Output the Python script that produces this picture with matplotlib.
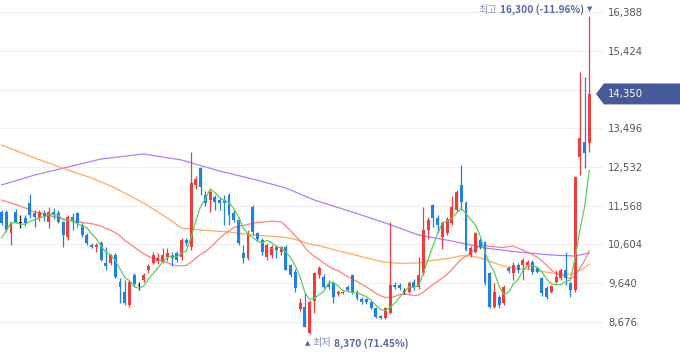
import matplotlib
matplotlib.use('Agg')
from matplotlib import pyplot as plt
from matplotlib.patches import Polygon
import numpy as np
import pandas as pd

# daily candles (open, high, low, close), oldest first
opens = [11420, 11420, 10880, 11420, 11146, 11255, 11636, 11387, 11255, 11387,
         11170, 11420, 11387, 11170, 10798, 11280, 11380, 11089, 10840, 10591,
         10550, 10633, 10135, 10135, 10342, 9680, 9430, 9098, 9845, 9560,
         9720, 9980, 10135, 10200, 10176, 10300, 10342, 10390, 10300, 10715,
         10550, 12084, 12500, 11835, 11710, 11790, 11710, 11710, 11835, 11380,
         11213, 10380, 10260, 11544, 10880, 10715, 10300, 10342, 10550, 10425,
         10550, 10093, 9930, 9000, 9056, 8400, 9210, 9845, 9800, 9620,
         9640, 9370, 9390, 9555, 9845, 9430, 9240, 9240, 9165, 9015,
         8825, 8770, 8890, 9600, 9590, 9430, 9430, 9680, 9555, 9886,
         10964, 11586, 11255, 10800, 10880, 11130, 11460, 12084, 11630, 10342,
         10420, 10715, 10670, 9886, 9056, 9310, 9140, 10010, 9886, 10093,
         10093, 10093, 10176, 10010, 9760, 9510, 9430, 9680, 9760, 9970,
         9640, 9470, 12787, 13160, 13120]
highs = [11460, 11462, 11160, 11490, 11338, 11340, 11860, 11450, 11460, 11460,
         11536, 11500, 11460, 11200, 11338, 11380, 11420, 11130, 10880, 10633,
         10633, 10680, 10550, 10360, 10380, 9770, 9720, 9720, 9900, 9680,
         9900, 10130, 10420, 10380, 10520, 10520, 10420, 10440, 10770, 10770,
         12910, 12300, 12530, 11930, 11960, 11835, 11790, 11835, 11880, 11460,
         11300, 10590, 10960, 11590, 10920, 10760, 10640, 10590, 10600, 10570,
         10580, 10130, 9990, 9270, 9390, 9220, 9930, 10080, 9880, 9720,
         9700, 9460, 9450, 9600, 9880, 9470, 9290, 9270, 9200, 9040,
         8850, 9060, 11170, 9680, 9650, 9520, 9700, 9740, 10300, 11540,
         11290, 11600, 11330, 11200, 11300, 11800, 11960, 12580, 11680, 10560,
         10920, 10760, 10700, 9930, 9650, 9350, 9600, 10060, 10170, 10140,
         10260, 10230, 10230, 10050, 9800, 9560, 9600, 9960, 10010, 10420,
         9680, 12300, 14900, 14780, 16300]
lows = [11100, 10920, 10591, 11140, 11006, 11060, 11263, 11050, 11200, 11200,
        11022, 11250, 11130, 10550, 10715, 10964, 11050, 10800, 10591, 10510,
        10425, 10200, 9970, 10100, 9780, 9150, 9100, 9060, 9550, 9460,
        9680, 9900, 10130, 10130, 10135, 10200, 10080, 10170, 10230, 10560,
        10467, 11990, 11830, 11560, 11420, 11460, 11460, 11090, 11089, 11170,
        10600, 10140, 10210, 10840, 10680, 10340, 10220, 10260, 10280, 10340,
        9960, 9800, 9430, 8950, 8540, 8370, 8890, 9770, 9530, 9500,
        9160, 9330, 9360, 9420, 9380, 9220, 9120, 9120, 8990, 8780,
        8740, 8740, 8870, 9500, 9480, 9360, 9400, 9480, 9500, 9850,
        10740, 11050, 10900, 10480, 10850, 11100, 11420, 11460, 10440, 10290,
        10380, 10500, 9600, 9020, 9020, 9020, 9110, 9900, 9720, 9890,
        9730, 9990, 9880, 9890, 9320, 9240, 9400, 9640, 9720, 9600,
        9300, 9430, 12330, 12500, 12900]
closes = [11130, 10964, 11130, 11170, 11146, 11130, 11338, 11296, 11420, 11296,
          11420, 11338, 11170, 10840, 11296, 11213, 11130, 10840, 10633, 10550,
          10591, 10218, 10068, 10342, 9803, 9555, 9140, 9680, 9620, 9560,
          9845, 10060, 10342, 10280, 10342, 10390, 10260, 10220, 10715, 10633,
          12125, 12225, 12040, 11630, 11917, 11670, 11630, 11640, 11338, 11213,
          10633, 10260, 10880, 10920, 10730, 10425, 10591, 10550, 10470, 10530,
          9970, 9845, 9513, 9140, 8560, 9180, 9890, 10018, 9555, 9555,
          9305, 9430, 9430, 9470, 9430, 9265, 9180, 9180, 9015, 8805,
          8770, 9015, 9596, 9555, 9530, 9430, 9640, 9515, 9845, 10964,
          11213, 11263, 11089, 11130, 11250, 11544, 11917, 11670, 10467, 10510,
          10880, 10550, 9640, 9056, 9430, 9100, 9555, 9950, 10093, 9970,
          10218, 10176, 9930, 9930, 9390, 9305, 9570, 9800, 9970, 9760,
          9470, 12290, 13245, 12870, 14350]
# closes of the four sessions just left of the window (feed the 5-day line)
prev_closes = [10050, 10120, 11200, 11330]

# moving-average values left of where the visible candles are enough to compute
# them (candle index, value)
ma20_early_idx = [0, 4, 7, 11, 14, 17]
ma20_early_val = [11711, 11560, 11412, 11300, 11213, 11150]
ma60_early_idx = [0, 7, 14, 19, 24, 30, 35, 38, 42, 48, 53, 58]
ma60_early_val = [13079, 12756, 12457, 12258, 12009, 11636, 11263, 11014, 10964,
                  10914, 10840, 10800]
# 120-day line
ma120_idx = [0, 7, 14, 21, 30, 38, 46, 53, 60, 66, 74, 81, 88, 95, 102, 109, 116,
             121, 124]
ma120_val = [12084, 12333, 12532, 12731, 12855, 12706, 12432, 12233, 12009, 11711,
             11412, 11138, 10840, 10690, 10516, 10417, 10342, 10317, 10392]

y_ticks = [8676, 9640, 10604, 11568, 12532, 13496, 14460, 15424, 16388]
last_price = 14350
high_label = ('최고', '16,300 (-11.96%)')
low_label = ('최저', '8,370 (71.45%)')

UP = '#f23b3b'
DOWN = '#1f80e8'
LABEL_BLUE = '#5469a9'
KR = ['Noto Sans CJK KR', 'DejaVu Sans']

fig = plt.figure(figsize=(6.8, 3.58), dpi=100)
ax = fig.add_axes([0, 0, 603 / 680, 1])

x = np.arange(len(closes))
o = np.array(opens)
c = np.array(closes)
colors = [UP if cc > oo else DOWN if cc < oo else '#222222' for oo, cc in zip(o, c)]


def moving(n, early_idx, early_val):
    m = pd.Series(c).rolling(n).mean().to_numpy()
    ok = ~np.isnan(m)
    return (np.concatenate([early_idx, x[ok]]), np.concatenate([early_val, m[ok]]))


# moving averages
ax.plot(ma120_idx, ma120_val, color='#b07cff', lw=0.9, zorder=2)
ax.plot(*moving(60, ma60_early_idx, ma60_early_val), color='#ffa95c', lw=0.9, zorder=2)
ax.plot(*moving(20, ma20_early_idx, ma20_early_val), color='#ff8080', lw=0.9, zorder=2)
ma5 = pd.Series(prev_closes + closes).rolling(5).mean().to_numpy()[len(prev_closes):]
ax.plot(x, ma5, color='#5ccf5c', lw=0.9, zorder=4)

# candles
ax.vlines(x, lows, highs, colors=colors, lw=0.9, zorder=3)
bottoms = np.minimum(o, c)
heights = np.maximum(np.abs(c - o), 25)
ax.bar(x, heights, bottom=bottoms, width=0.62, color=colors, lw=0, zorder=3)

ax.set_xlim(-0.32, 126.9)
ax.set_ylim(7780, 16687)
ax.set_yticks(y_ticks)
# the price tag covers the tick label nearest the last price
ax.set_yticklabels(['' if abs(v - last_price) < 300 else f'{v:,}' for v in y_ticks])
ax.yaxis.tick_right()
ax.tick_params(axis='y', length=0, pad=3.6, labelsize=7.3, labelcolor='#555555')
ax.set_xticks([])
ax.grid(axis='y', color='#f0f0f3', lw=1)
for s in ax.spines.values():
    s.set_visible(False)

# high / low markers
hi_i = int(np.argmax(highs))
lo_i = int(np.argmin(lows))
tri = ax.annotate('▼', xy=(hi_i, highs[hi_i]), xytext=(0, 6), textcoords='offset pixels',
                  ha='center', va='center', fontsize=5, color=LABEL_BLUE, family='DejaVu Sans')
num = ax.annotate(high_label[1], xy=(0, 0.5), xycoords=tri, xytext=(-2, 0),
                  textcoords='offset pixels', ha='right', va='center', fontsize=7.3,
                  weight='bold', color=LABEL_BLUE, family=KR)
ax.annotate(high_label[0], xy=(0, 0.5), xycoords=num, xytext=(-3, 0),
            textcoords='offset pixels', ha='right', va='center', fontsize=7.3,
            color='#8795c2', family=KR)

tri = ax.annotate('▲', xy=(lo_i, lows[lo_i]), xytext=(-2, -9), textcoords='offset pixels',
                  ha='center', va='center', fontsize=5, color=LABEL_BLUE, family='DejaVu Sans')
lab = ax.annotate(low_label[0], xy=(1, 0.5), xycoords=tri, xytext=(2, 0),
                  textcoords='offset pixels', ha='left', va='center', fontsize=7.3,
                  color='#8795c2', family=KR)
ax.annotate(low_label[1], xy=(1, 0.5), xycoords=lab, xytext=(3, 0),
            textcoords='offset pixels', ha='left', va='center', fontsize=7.3,
            weight='bold', color=LABEL_BLUE, family=KR)

# current price tag on the right
y0, y1 = ax.get_ylim()
yf = (last_price - y0) / (y1 - y0)
hh = 10.5 / 358
tag = Polygon([(596 / 680, yf), (604 / 680, yf + hh), (1, yf + hh), (1, yf - hh), (604 / 680, yf - hh)],
              closed=True, transform=fig.transFigure, facecolor='#46599a', edgecolor='none', zorder=10)
fig.add_artist(tag)
fig.text(608 / 680, yf, f'{last_price:,}', color='white', fontsize=7.3, ha='left', va='center', zorder=11)

fig.savefig('out.png', dpi=100)
